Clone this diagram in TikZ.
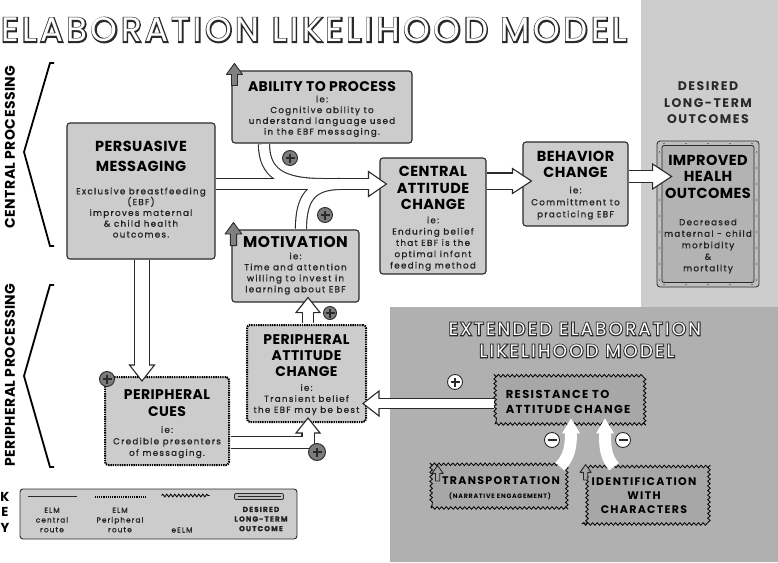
\documentclass[tikz,border=0pt]{standalone}
\usepackage{fontspec}
\setmainfont{Poppins}
\newfontfamily\hdfont{Poppins}[LetterSpace=3]
\newfontfamily\bdfont{Poppins}[LetterSpace=15, FakeBold=1]
\newfontfamily\wdfont{Poppins}[LetterSpace=12]
\newfontfamily\ttlfont{Poppins}[LetterSpace=10.2]
\newfontfamily\ttlrim{Poppins}[LetterSpace=10.2, FakeBold=7.5]
\newfontfamily\eltfont{Poppins}[LetterSpace=13]
\newfontfamily\eltrim{Poppins}[LetterSpace=13, FakeBold=11]
\usetikzlibrary{positioning, decorations.pathmorphing}

\definecolor{edge}{HTML}{2A2A2A}
\definecolor{boxgray}{HTML}{CCCCCC}
\definecolor{lpanel}{HTML}{CDCDCD}
\definecolor{dpanel}{HTML}{B0B0B0}
\definecolor{resgray}{HTML}{A7A7A7}
\definecolor{signgray}{HTML}{7C7C7C}
\definecolor{icongray}{HTML}{808080}
\definecolor{frgray}{HTML}{BEBEBE}
\definecolor{ingray}{HTML}{B3B3B3}
\definecolor{txt}{HTML}{222222}

\begin{document}
\begin{tikzpicture}[
  x=1pt, y=-1pt,
  box/.style={draw=edge, line width=1.1pt, rounded corners=3pt, fill=boxgray, inner sep=0pt},
  pbox/.style={box, draw=black, line width=2pt, dash pattern=on 1.4pt off 0.9pt},
  ebox/.style={draw=black, line width=0.8pt, fill=resgray, inner sep=0pt, decorate, decoration={snake, segment length=4.6pt, amplitude=1.3pt}},
  frame/.style={draw=edge, line width=0.8pt, rounded corners=3pt, fill=frgray, inner sep=0pt},
  inframe/.style={draw=edge, line width=0.8pt, rounded corners=2pt, fill=ingray, inner sep=0pt},
  keybox/.style={draw=edge, line width=0.9pt, rounded corners=3pt, fill=boxgray, inner sep=0pt},
  hd/.style args={#1/#2}{font=\hdfont\bfseries\fontsize{#1}{#2}\selectfont, align=center, inner sep=0pt, text=black},
  bd/.style={font=\bdfont\fontsize{8.7}{#1}\selectfont, align=center, inner sep=0pt, text=txt},
  bd/.default=11,
  et/.style={font=\wdfont\bfseries\fontsize{11}{14.5}\selectfont, inner sep=0pt, text=black},
  kl/.style={font=\bdfont\fontsize{7.3}{9.7}\selectfont, align=center, inner sep=0pt, text=txt},
  lbl/.style={font=\wdfont\bfseries\fontsize{12.5}{16.5}\selectfont, align=center, inner sep=0pt, text=edge},
  side/.style={font=\hdfont\bfseries\fontsize{14}{16}\selectfont, inner sep=0pt, text=black},
  ttl/.style={font=\ttlfont\fontsize{34}{40}\selectfont, inner sep=0pt, text=white},
  ttlo/.style={font=\ttlrim\fontsize{34}{40}\selectfont, inner sep=0pt, text=edge},
  eltl/.style={font=\eltfont\fontsize{18}{22}\selectfont, inner sep=0pt, text=white},
  eltlo/.style={font=\eltrim\fontsize{18}{22}\selectfont, inner sep=0pt, text=edge},
  brace/.style={draw=black, line width=1.8pt, line join=miter},
  bando/.style={draw=edge, line width=#1+2.2pt},
  bandi/.style={draw=white, line width=#1},
  sign/.style={circle, draw=edge, line width=0.9pt, fill=signgray, minimum size=15pt, inner sep=0pt},
  wsign/.style={fill=white},
  plus/.style={sign, path picture={\draw[edge, line width=1.8pt]
      ([xshift=-4.5pt]path picture bounding box.center) -- ([xshift=4.5pt]path picture bounding box.center)
      ([yshift=-4.5pt]path picture bounding box.center) -- ([yshift=4.5pt]path picture bounding box.center);}},
  minus/.style={sign, path picture={\draw[edge, line width=1.8pt]
      ([xshift=-4.5pt]path picture bounding box.center) -- ([xshift=4.5pt]path picture bounding box.center);}},
  pics/bhead/.style args={#1/#2}{code={\draw[edge, fill=white, line width=1.1pt, line join=miter]
      (0,0) -- (-#1,-#2) -- (-#1,#2) -- cycle;}},
  pics/uparr/.style={code={\draw[pic actions, line width=0.9pt, line join=round]
      (0,0) -- (8,11) -- (3,11) -- (3,22) -- (-3,22) -- (-3,11) -- (-8,11) -- cycle;}}
]
\useasboundingbox (0,0) rectangle (778,562);

% Background panels
\fill[lpanel] (641,0) rectangle (778,307);
\fill[dpanel] (390,307) rectangle (778,562);

% Outlined titles: emboldened dark rim under a white copy
\node[ttlo] (ttlr) at (314,30) {ELABORATION LIKELIHOOD MODEL};
\node[ttl] (ttl) at (ttlr.center) {ELABORATION LIKELIHOOD MODEL};
\node[eltlo] (et1r) at (575,329) {EXTENDED ELABORATION};
\node[eltl] (et1) at (et1r.center) {EXTENDED ELABORATION};
\node[eltlo] (et2r) at (577,351) {LIKELIHOOD MODEL};
\node[eltl] (et2) at (et2r.center) {LIKELIHOOD MODEL};

% Side labels and braces
\node[side, rotate=90] (cpl) at (10,147) {CENTRAL PROCESSING};
\node[side, rotate=90] (ppl) at (10,375) {PERIPHERAL PROCESSING};
\draw[brace] (54,63) -- (50,63) -- (24,152) -- (50,246) -- (54,246);
\draw[brace] (54,285) -- (50,285) -- (24,376) -- (50,467) -- (54,467);

% ELM central route
\node[box, minimum width=148pt, minimum height=136pt] (pm) at (141,191) {};
\node[hd=14.5/20, below=19pt of pm.north] (pmt) {PERSUASIVE\\MESSAGING};
\node[bd=10.8, below=65pt of pm.north] (pmb) {Exclusive breastfeeding\\(EBF)\\improves maternal\\\& child health\\outcomes.};

\node[box, minimum width=180pt, minimum height=72pt] (ab) at (322,107) {};
\node[hd=14/16, below=11pt of ab.north] (abt) {ABILITY TO PROCESS};
\node[bd=10.8, below=25pt of ab.north] (abb) {ie:\\Cognitive ability to\\understand language used\\in the EBF messaging.};

\node[box, minimum width=127pt, minimum height=72pt] (mo) at (295.5,266) {};
\node[hd=15.5/18, below=7pt of mo.north] (mot) {MOTIVATION};
\node[bd=11, below=23pt of mo.north] (mob) {ie:\\Time and attention\\willing to invest in\\learning about EBF};

\node[box, minimum width=106pt, minimum height=116pt] (ca) at (433,216) {};
\node[hd=14.5/16.5, below=9pt of ca.north] (cat) {CENTRAL\\ATTITUDE\\CHANGE};
\node[bd=11.3, below=59pt of ca.north] (cab) {ie:\\Enduring belief\\that EBF is the\\optimal infant\\feeding method};

\node[box, minimum width=105pt, minimum height=84pt] (bc) at (575.5,184) {};
\node[hd=14.5/16, below=10pt of bc.north] (bct) {BEHAVIOR\\CHANGE};
\node[bd=12, below=45pt of bc.north] (bcb) {ie:\\Committment to\\practicing EBF};

% Desired long-term outcome
\node[lbl] (dlo) at (708,103) {DESIRED\\LONG-TERM\\OUTCOMES};
\node[frame, minimum width=102pt, minimum height=146pt] (ihf) at (708,214) {};
\foreach \xx in {664,686,...,752} {
  \fill[edge] (\xx,143.5) circle (0.6);
  \fill[edge] (\xx,284.5) circle (0.6);
}
\foreach \yy in {152,168,...,280} {
  \fill[edge] (659.5,\yy) circle (0.6);
  \fill[edge] (756.5,\yy) circle (0.6);
}
\node[inframe, minimum width=92pt, minimum height=137pt] (ih) at (ihf.center) {};
\node[hd=14.5/16.5, below=14pt of ihf.north] (iht) {IMPROVED\\HEALH\\OUTCOMES};
\node[bd=11.5, below=78pt of ihf.north] (ihb) {Decreased\\maternal - child\\morbidity\\\&\\mortality};

% ELM peripheral route
\node[pbox, minimum width=119pt, minimum height=97pt] (pa) at (306.5,373.5) {};
\node[hd=14/16, below=10pt of pa.north] (pat) {PERIPHERAL\\ATTITUDE\\CHANGE};
\node[bd=11, below=60pt of pa.north] (pab) {ie:\\Transient belief\\the EBF may be best};

\node[pbox, minimum width=124pt, minimum height=88pt] (pc) at (167,421) {};
\node[hd=14/17, below=13pt of pc.north] (pct) {PERIPHERAL\\CUES};
\node[bd=11.5, below=50pt of pc.north] (pcb) {ie:\\Credible presenters\\of messaging.};

% Extended ELM
\node[ebox, minimum width=150pt, minimum height=47pt] (rs) at (570,400.5) {};
\node[et, align=left, font=\wdfont\bfseries\fontsize{11.5}{15}\selectfont, below right=14pt and 11pt of rs.north west] (rst) {RESISTANCE TO\\ATTITUDE CHANGE};
\node[ebox, minimum width=136pt, minimum height=43pt] (tr) at (499,486.5) {};
\node[et, below=12pt of tr.north, xshift=2pt] (trt) {TRANSPORTATION};
\node[et, font=\wdfont\bfseries\fontsize{6.3}{7}\selectfont, below=28pt of tr.north, xshift=1pt] (trs) {(NARRATIVE ENGAGEMENT)};
\node[ebox, minimum width=124pt, minimum height=57pt] (id) at (644,495.5) {};
\node[et, align=center, font=\wdfont\bfseries\fontsize{11}{14}\selectfont] (idt) at (id.center) {IDENTIFICATION\\WITH\\CHARACTERS};

% Key
\node[side, align=center, font=\hdfont\bfseries\fontsize{13}{15.5}\selectfont, anchor=north] (kk) at (5,492) {K\\E\\Y};
\node[keybox, minimum width=277pt, minimum height=50pt] (key) at (158.5,514) {};
\draw[edge, line width=1.6pt] ([shift={(8,8)}]key.north west) -- ++(49,0);
\draw[black, line width=1.9pt, dash pattern=on 1.3pt off 0.9pt] ([shift={(75,8)}]key.north west) -- ++(51,0);
\draw[black, line width=0.8pt, decorate, decoration={snake, segment length=4pt, amplitude=1.4pt}] ([shift={(142,7)}]key.north west) -- ++(48,0);
\draw[edge, fill=frgray, line width=0.7pt, rounded corners=1pt] ([shift={(215,5)}]key.north west) rectangle ++(49,6);
\draw[edge, line width=0.4pt] ([shift={(218,8)}]key.north west) -- ++(43,0);
\node[kl] (k1) at (52,520) {ELM\\central\\route};
\node[kl] (k2) at (120,520) {ELM\\Peripheral\\route};
\node[kl] (k3) at (182,530) {eELM};
\node[kl, font=\bdfont\bfseries\fontsize{7.3}{9.6}\selectfont] (k4) at (261,519) {DESIRED\\LONG-TERM\\OUTCOME};

% Block arrows: outlines
\coordinate (a1) at ([xshift=0.6pt, yshift=7pt]pm.east);
\coordinate (a1t) at ([xshift=7pt]a1 -| ca.west);
\coordinate (t1) at ([xshift=-58pt, yshift=-0.6pt]ab.south);
\coordinate (t2) at ([xshift=5.5pt, yshift=0.6pt]mo.north);
\coordinate (a2) at ([xshift=0.6pt, yshift=35pt]ca.east);
\coordinate (a2t) at ([xshift=9pt]a2 -| bc.west);
\coordinate (a3) at ([xshift=0.6pt, yshift=7.5pt]bc.east);
\coordinate (a3t) at ([xshift=15pt]a3 -| ihf.west);
\coordinate (a4) at ([xshift=1pt, yshift=-0.6pt]pm.south);
\coordinate (a4t) at ([yshift=-5pt]a4 |- pc.north);
\coordinate (a5) at ([xshift=1.5pt, yshift=1pt]pa.north);
\coordinate (a5t) at ([yshift=5pt]a5 |- mo.south);
\coordinate (a6) at ([xshift=1pt, yshift=-21.5pt]pc.east);
\coordinate (a6t) at ([yshift=5pt]a5 |- pa.south);
\coordinate (a7) at ([xshift=-1pt, yshift=-3pt]rs.west);
\coordinate (a7t) at ([xshift=-4pt]a7 -| pa.east);

\draw[bando=10pt] (a1) -- ([xshift=-18pt]a1t);
\draw[bando=10pt] (t1) .. controls +(0,29) and +(-40,0) .. (a1 -| ab.south);
\draw[bando=10pt] (t2) .. controls +(0,-30) and +(-30,0) .. ([xshift=45pt]a1 -| mo.north);
\draw[bando=15pt] (a2) -- ([xshift=-19pt]a2t);
\draw[bando=11pt] (a3) -- ([xshift=-19pt]a3t);
\draw[bando=14pt] (a4) -- ([yshift=16pt]a4t);
\draw[bando=10pt] (a5) -- ([yshift=-15pt]a5t);
\draw[bando=11pt, line join=miter] (a6) -- (a6 -| a6t) -- ([yshift=-15pt]a6t);
\draw[bando=9.5pt] (a7) -- ([xshift=16pt]a7t);

% Heads
\pic at (a1t) {bhead=18/12.5};
\pic at (a2t) {bhead=19/12.5};
\pic at (a3t) {bhead=19/12.5};
\pic[rotate=-90] at (a4t) {bhead=16/12.5};
\pic[rotate=90] at (a5t) {bhead=15/12};
\pic[rotate=90] at (a6t) {bhead=15/12};
\pic[rotate=180] at (a7t) {bhead=16/12.5};

% Block arrows: white fill
\draw[bandi=10pt] (a1) -- ([xshift=-16.5pt]a1t);
\draw[bandi=10pt] (t1) .. controls +(0,29) and +(-40,0) .. (a1 -| ab.south);
\draw[bandi=10pt] (t2) .. controls +(0,-30) and +(-30,0) .. ([xshift=45pt]a1 -| mo.north);
\draw[bandi=15pt] (a2) -- ([xshift=-17.5pt]a2t);
\draw[bandi=11pt] (a3) -- ([xshift=-17.5pt]a3t);
\draw[bandi=14pt] (a4) -- ([yshift=14.5pt]a4t);
\draw[bandi=10pt] (a5) -- ([yshift=-13.5pt]a5t);
\draw[bandi=11pt] (a6) -- (a6 -| a6t) -- ([yshift=-13.5pt]a6t);
\draw[bandi=9.5pt] (a7) -- ([xshift=14.5pt]a7t);

% eELM curved arrows
\coordinate (c1) at ([xshift=61pt, yshift=-2pt]tr.north);
\coordinate (c1t) at ([xshift=1pt, yshift=6pt]rs.south);
\coordinate (c2) at ([xshift=-30pt]id.north);
\coordinate (c2t) at ([xshift=35pt, yshift=6pt]rs.south);
\draw[white, line width=12pt] (c1) .. controls +(10,-10) and +(0,12) .. ([yshift=-14pt]c1t);
\fill[white] ([xshift=-9pt, yshift=-15pt]c1t) -- (c1t) -- ([xshift=9pt, yshift=-15pt]c1t) -- cycle;
\draw[white, line width=12pt] (c2) .. controls +(-9,-10) and +(0,12) .. ([yshift=-14pt]c2t);
\fill[white] ([xshift=-9pt, yshift=-15pt]c2t) -- (c2t) -- ([xshift=9pt, yshift=-15pt]c2t) -- cycle;

% Signs
\node[plus] (p1) at (290,158) {};
\node[plus] (p2) at (325,215) {};
\node[plus, minimum size=13pt] (p3) at (330,313) {};
\node[plus, minimum size=17pt] (p4) at (317,452) {};
\node[plus] (p5) at ([shift={(3,3)}]pc.north west) {};
\node[plus, wsign] (p6) at (455,382) {};
\node[minus, wsign] (m1) at (552,440) {};
\node[minus, wsign] (m2) at (623,440) {};

% Up icons
\pic[fill=icongray, draw=edge] at ([shift={(3,-7)}]ab.north west) {uparr};
\pic[fill=icongray, draw=edge, scale=1.05] at ([shift={(2,-7)}]mo.north west) {uparr};
\pic[fill=resgray, draw=edge, scale=0.7] at ([shift={(7,1)}]tr.north west) {uparr};
\pic[fill=resgray, draw=edge, scale=0.7] at ([shift={(4,-2)}]id.north west) {uparr};

\end{tikzpicture}
\end{document}
